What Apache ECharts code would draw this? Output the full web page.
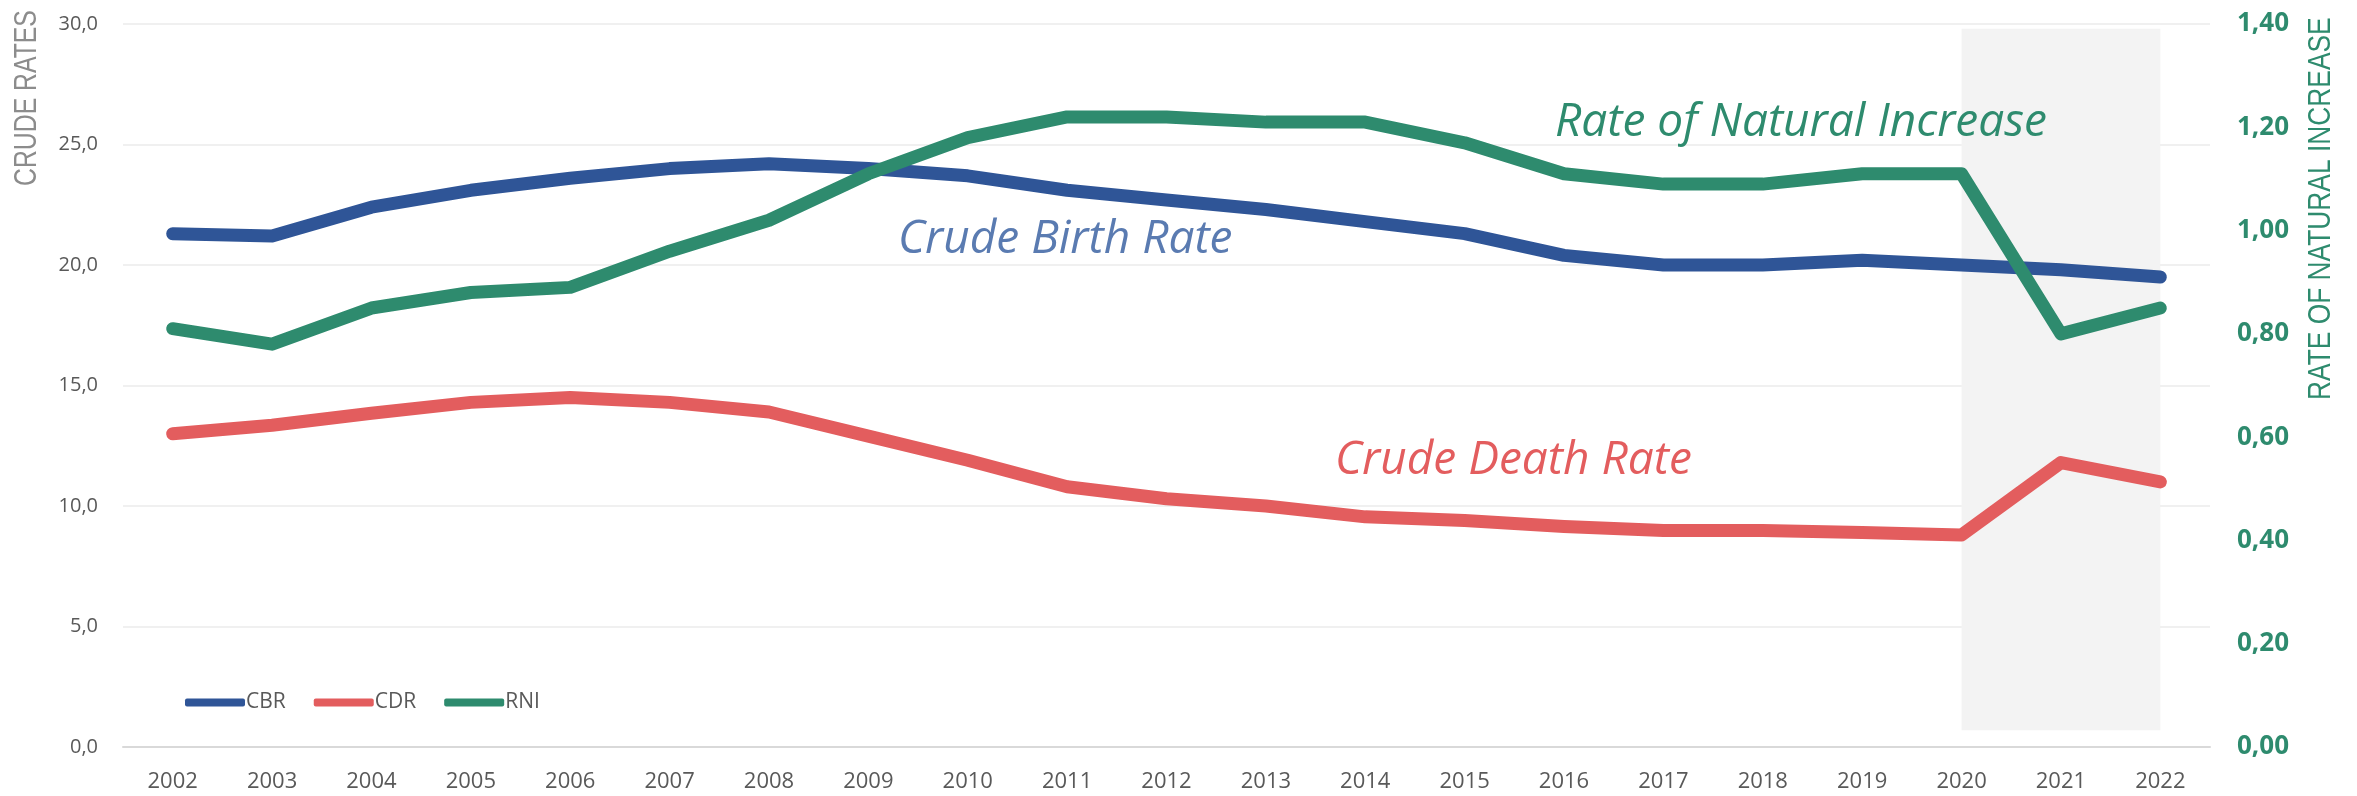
<!DOCTYPE html>
<html>
<head>
<meta charset="utf-8">
<script src="https://cdn.jsdelivr.net/npm/echarts@6/dist/echarts.min.js"></script>
<style>
  html, body { margin: 0; padding: 0; background: #ffffff; }
  #chart { width: 2357px; height: 796px; }
</style>
</head>
<body>
<div id="chart"></div>
<script>
const years = ['2002', '2003', '2004', '2005', '2006', '2007', '2008', '2009', '2010', '2011', '2012',
  '2013', '2014', '2015', '2016', '2017', '2018', '2019', '2020', '2021', '2022']
const cbr = [21.3, 21.2, 22.4, 23.1, 23.6, 24.0, 24.2, 24.0, 23.7, 23.1, 22.7,
  22.3, 21.8, 21.3, 20.4, 20.0, 20.0, 20.2, 20.0, 19.8, 19.5]
const cdr = [13.0, 13.35, 13.85, 14.3, 14.5, 14.3, 13.9, 12.9, 11.9, 10.8, 10.3,
  10.0, 9.55, 9.4, 9.15, 8.98, 8.98, 8.9, 8.8, 11.8, 11.0]
const rni = [0.81, 0.78, 0.85, 0.88, 0.89, 0.96, 1.02, 1.11, 1.18, 1.22, 1.22,
  1.21, 1.21, 1.17, 1.11, 1.09, 1.09, 1.11, 1.11, 0.80, 0.85]
// shaded period (covid years)
const shadeFrom = '2020'
const shadeTo = '2022'

const comma = (v, d) => v.toFixed(d).replace('.', ',')
const narrow = "'Liberation Sans', Arial, sans-serif"
const labelFont = "'Open Sans', 'Noto Sans', sans-serif"

const chart = echarts.init(document.getElementById('chart'))
chart.setOption({
  backgroundColor: '#ffffff',
  animation: false,
  grid: {
    left: 123,
    right: 147,
    top: 24,
    bottom: 49,
    containLabel: false
  },
  legend: {
    left: 185,
    top: 692,
    padding: 0,
    icon: 'roundRect',
    itemWidth: 60,
    itemHeight: 8,
    itemGap: 28,
    textStyle: {
      fontFamily: labelFont,
      fontSize: 21,
      color: '#595959',
      padding: [0, 0, 0, -4]
    },
    data: ['CBR', 'CDR', 'RNI']
  },
  xAxis: {
    type: 'category',
    data: years,
    boundaryGap: true,
    axisTick: { show: false },
    axisLine: { lineStyle: { color: '#d9d9d9', width: 2 } },
    axisLabel: {
      margin: 24,
      fontFamily: labelFont,
      fontSize: 22,
      color: '#595959'
    }
  },
  yAxis: [{
    type: 'value',
    min: 0,
    max: 30,
    interval: 5,
    axisLine: { show: false },
    axisTick: { show: false },
    axisLabel: {
      margin: 25,
      fontFamily: labelFont,
      fontSize: 20,
      color: '#595959',
      formatter: v => comma(v, 1)
    },
    splitLine: { lineStyle: { color: '#f0f0f0', width: 2 } }
  }, {
    type: 'value',
    min: 0,
    max: 1.4,
    interval: 0.2,
    axisLine: { show: false },
    axisTick: { show: false },
    axisLabel: {
      margin: 27,
      fontFamily: labelFont,
      fontSize: 26,
      fontWeight: 'bold',
      color: '#2e8b6e',
      formatter: v => comma(v, 2)
    },
    splitLine: { show: false }
  }],
  series: [{
    name: 'CBR',
    type: 'line',
    data: cbr,
    yAxisIndex: 0,
    symbol: 'none',
    lineStyle: { color: '#2f5597', width: 13, cap: 'round', join: 'round' },
    itemStyle: { color: '#2f5597' },
    z: 3,
    markArea: {
      silent: true,
      itemStyle: { color: '#f3f3f3' },
      data: [[{ xAxis: shadeFrom, yAxis: 29.8 }, { xAxis: shadeTo, yAxis: 0.7 }]]
    }
  }, {
    name: 'CDR',
    type: 'line',
    data: cdr,
    yAxisIndex: 0,
    symbol: 'none',
    lineStyle: { color: '#e35d5e', width: 13, cap: 'round', join: 'round' },
    itemStyle: { color: '#e35d5e' },
    z: 3
  }, {
    name: 'RNI',
    type: 'line',
    data: rni,
    yAxisIndex: 1,
    symbol: 'none',
    lineStyle: { color: '#2e8b6e', width: 13, cap: 'round', join: 'round' },
    itemStyle: { color: '#2e8b6e' },
    z: 3
  }],
  graphic: [{
    type: 'text',
    x: 27,
    y: 186,
    z: 100,
    rotation: Math.PI / 2,
    scaleX: 0.8,
    style: {
      text: 'CRUDE RATES',
      font: '31px ' + narrow,
      fill: '#8c8c8c',
      textAlign: 'left',
      textVerticalAlign: 'middle'
    }
  }, {
    type: 'text',
    x: 2321,
    y: 400,
    z: 100,
    rotation: Math.PI / 2,
    scaleX: 0.85,
    style: {
      text: 'RATE OF NATURAL INCREASE',
      font: '31px ' + narrow,
      fill: '#2e8b6e',
      textAlign: 'left',
      textVerticalAlign: 'middle'
    }
  }, {
    type: 'text',
    x: 898,
    y: 240,
    z: 100,
    style: {
      text: 'Crude Birth Rate',
      font: 'italic 46px ' + labelFont,
      fill: '#5a7bb1',
      textAlign: 'left',
      textVerticalAlign: 'middle'
    }
  }, {
    type: 'text',
    x: 1335,
    y: 461,
    z: 100,
    style: {
      text: 'Crude Death Rate',
      font: 'italic 46px ' + labelFont,
      fill: '#e35d5e',
      textAlign: 'left',
      textVerticalAlign: 'middle'
    }
  }, {
    type: 'text',
    x: 1555,
    y: 123,
    z: 100,
    style: {
      text: 'Rate of Natural Increase',
      font: 'italic 46px ' + labelFont,
      fill: '#2e8b6e',
      textAlign: 'left',
      textVerticalAlign: 'middle'
    }
  }]
})
</script>
</body>
</html>
